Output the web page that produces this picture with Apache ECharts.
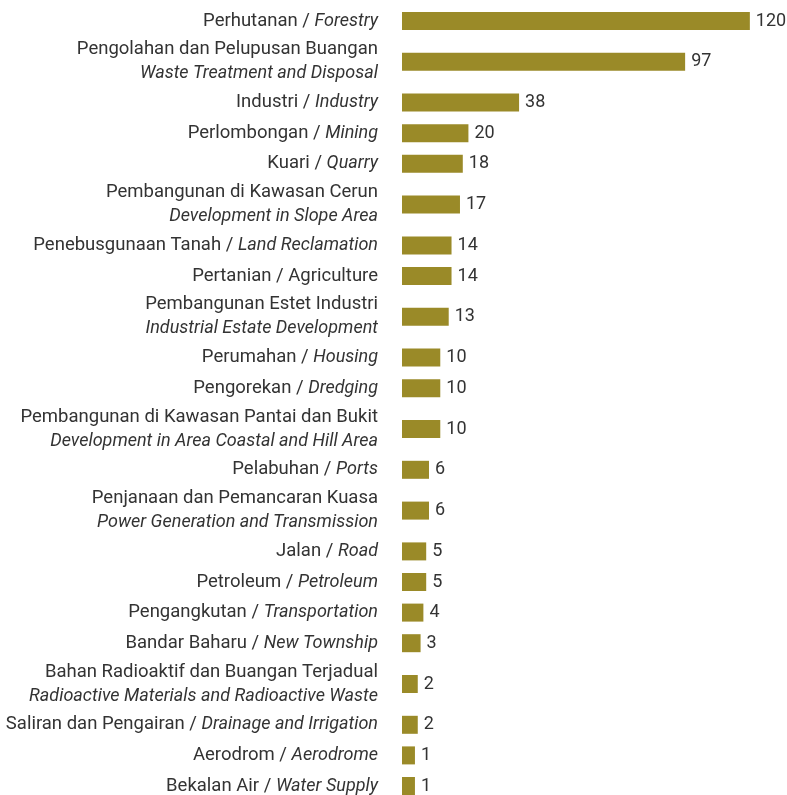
<!DOCTYPE html>
<html>
<head>
<meta charset="utf-8">
<script src="https://cdn.jsdelivr.net/npm/echarts@6/dist/echarts.min.js"></script>
<style>
  html, body { margin: 0; padding: 0; background: #fff; }
  #chart { width: 787px; height: 795px; }
</style>
</head>
<body>
<div id="chart"></div>
<script>
// categories, top to bottom; "\n" = label on two lines (Malay / English italic)
var categories = [
  'Perhutanan / Forestry',
  'Pengolahan dan Pelupusan Buangan\nWaste Treatment and Disposal',
  'Industri / Industry',
  'Perlombongan / Mining',
  'Kuari / Quarry',
  'Pembangunan di Kawasan Cerun\nDevelopment in Slope Area',
  'Penebusgunaan Tanah / Land Reclamation',
  'Pertanian / Agriculture',
  'Pembangunan Estet Industri\nIndustrial Estate Development',
  'Perumahan / Housing',
  'Pengorekan / Dredging',
  'Pembangunan di Kawasan Pantai dan Bukit\nDevelopment in Area Coastal and Hill Area',
  'Pelabuhan / Ports',
  'Penjanaan dan Pemancaran Kuasa\nPower Generation and Transmission',
  'Jalan / Road',
  'Petroleum / Petroleum',
  'Pengangkutan / Transportation',
  'Bandar Baharu / New Township',
  'Bahan Radioaktif dan Buangan Terjadual\nRadioactive Materials and Radioactive Waste',
  'Saliran dan Pengairan / Drainage and Irrigation',
  'Aerodrom / Aerodrome',
  'Bekalan Air / Water Supply'
];
var values = [120, 97, 38, 20, 18, 17, 14, 14, 13, 10, 10, 10, 6, 6, 5, 5, 4, 3, 2, 2, 1, 1];
// english part printed upright, not italic
var uprightNames = ['Agriculture'];

(function () {
  var chart = echarts.init(document.getElementById('chart'));
  var barColor = '#9a8a28';
  var textColor = '#333';
  var fontFamily = 'Roboto';
  var fontSize = 18.5;
  var xMin = -3.6;

  // two-line labels take more room than one-line labels:
  // split the axis into small slots, 3 for one line, 5 for two lines
  var slots = [];
  var slotLabel = {};
  var data = [];
  for (var i = 0; i < categories.length; i++) {
    var n = categories[i].indexOf('\n') >= 0 ? 5 : 3;
    var mid = slots.length + Math.floor(n / 2);
    for (var k = 0; k < n; k++) {
      slots.push('s' + slots.length);
    }
    slotLabel['s' + mid] = categories[i];
    data.push([values[i], mid]);
  }

  function formatLabel(key) {
    var text = slotLabel[key];
    if (!text) return '';
    if (text.indexOf('\n') >= 0) {
      var lines = text.split('\n');
      return '{n|' + lines[0] + '}\n{i|' + lines[1] + '}';
    }
    var parts = text.split(' / ');
    if (uprightNames.indexOf(parts[1]) >= 0) {
      return '{n|' + text + '}';
    }
    return '{n|' + parts[0] + ' / }{i|' + parts[1] + '}';
  }

  var option = {
    animation: false,
    grid: {
      left: 402,
      right: 9,
      top: 5.7,
      height: 795.6,
      outerBoundsMode: 'none'
    },
    xAxis: {
      type: 'value',
      min: xMin,
      max: 130,
      show: false
    },
    yAxis: {
      type: 'category',
      inverse: true,
      data: slots,
      axisLine: { show: false },
      axisTick: { show: false },
      splitLine: { show: false },
      axisLabel: {
        interval: 0,
        margin: 24,
        color: textColor,
        formatter: formatLabel,
        rich: {
          n: { fontFamily: fontFamily, fontSize: fontSize, color: textColor, lineHeight: 24 },
          i: { fontFamily: fontFamily, fontSize: 18, color: textColor, fontStyle: 'italic', lineHeight: 24 }
        }
      }
    },
    series: [
      {
        type: 'custom',
        encode: { x: 0, y: 1 },
        data: data,
        renderItem: function (params, api) {
          var start = api.coord([xMin, api.value(1)]);
          var end = api.coord([api.value(0), api.value(1)]);
          var h = 18;
          return {
            type: 'rect',
            shape: { x: start[0], y: start[1] - h / 2, width: end[0] - start[0], height: h },
            style: { fill: barColor },
            textContent: {
              style: {
                text: String(api.value(0)),
                fill: textColor,
                fontFamily: fontFamily,
                fontSize: 18
              }
            },
            textConfig: { position: 'right', distance: 6 }
          };
        }
      }
    ]
  };
  chart.setOption(option);
  window.addEventListener('resize', function () {
    chart.resize();
  });
})();
</script>
</body>
</html>
